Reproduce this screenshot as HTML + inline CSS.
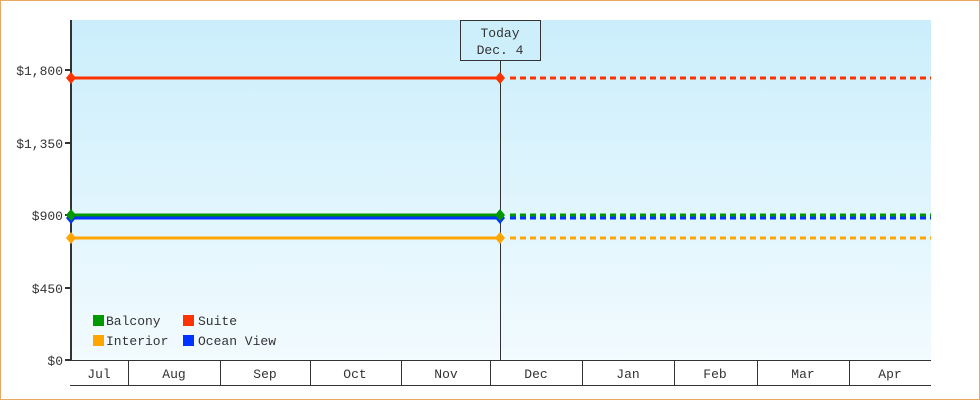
<!DOCTYPE html>
<html><head><style>
body{margin:0;background:#fff}
svg{display:block}
text{font-family:"Liberation Mono","DejaVu Sans Mono",monospace;font-size:13px;fill:#333}
</style></head><body>
<svg width="980" height="400" viewBox="0 0 980 400">
<defs><linearGradient id="g" x1="0" y1="0" x2="0" y2="1"><stop offset="0" stop-color="#cbeefc"/><stop offset="1" stop-color="#f2fbfe"/></linearGradient></defs>
<rect x="0.5" y="0.5" width="979" height="399" fill="#fff" stroke="#eba95f"/>
<rect x="71" y="20" width="860" height="340" fill="url(#g)"/>
<line x1="71" y1="20" x2="71" y2="361" stroke="#333" stroke-width="2"/>
<g stroke="#333" stroke-width="2">
<line x1="65" y1="70" x2="71" y2="70"/><line x1="65" y1="143" x2="71" y2="143"/><line x1="65" y1="215" x2="71" y2="215"/><line x1="65" y1="288" x2="71" y2="288"/><line x1="65" y1="360" x2="71" y2="360"/>
</g>
<g text-anchor="end">
<text x="63" y="75">$1,800</text><text x="63" y="148">$1,350</text><text x="63" y="220">$900</text><text x="63" y="293">$450</text><text x="63" y="365">$0</text>
</g>
<line x1="70" y1="360.5" x2="931" y2="360.5" stroke="#333"/>
<line x1="70" y1="385.5" x2="931" y2="385.5" stroke="#333"/>
<g stroke="#333">
<line x1="128.5" y1="360" x2="128.5" y2="385"/><line x1="220.5" y1="360" x2="220.5" y2="385"/><line x1="310.5" y1="360" x2="310.5" y2="385"/><line x1="401.5" y1="360" x2="401.5" y2="385"/><line x1="490.5" y1="360" x2="490.5" y2="385"/><line x1="582.5" y1="360" x2="582.5" y2="385"/><line x1="674.5" y1="360" x2="674.5" y2="385"/><line x1="757.5" y1="360" x2="757.5" y2="385"/><line x1="849.5" y1="360" x2="849.5" y2="385"/>
</g>
<g text-anchor="middle">
<text x="99" y="378">Jul</text><text x="174" y="378">Aug</text><text x="265" y="378">Sep</text><text x="355" y="378">Oct</text><text x="446" y="378">Nov</text><text x="536" y="378">Dec</text><text x="628" y="378">Jan</text><text x="715" y="378">Feb</text><text x="803" y="378">Mar</text><text x="890" y="378">Apr</text>
</g>
<line x1="500.5" y1="60" x2="500.5" y2="360" stroke="#333"/>
<rect x="460.5" y="20.5" width="80" height="40" fill="#cdeffc" stroke="#333"/>
<text x="500" y="37" text-anchor="middle">Today</text>
<text x="500" y="54" text-anchor="middle">Dec. 4</text>
<g stroke-width="3">
<line x1="71" y1="78" x2="500" y2="78" stroke="#ff3300"/>
<line x1="510" y1="78" x2="931" y2="78" stroke="#ff3300" stroke-dasharray="6 4"/>
<line x1="71" y1="218" x2="500" y2="218" stroke="#0033ff"/>
<line x1="510" y1="218" x2="931" y2="218" stroke="#0033ff" stroke-dasharray="6 4"/>
<line x1="71" y1="215" x2="500" y2="215" stroke="#009900"/>
<line x1="510" y1="215" x2="931" y2="215" stroke="#009900" stroke-dasharray="6 4"/>
<line x1="71" y1="238" x2="500" y2="238" stroke="#ffa500"/>
<line x1="510" y1="238" x2="931" y2="238" stroke="#ffa500" stroke-dasharray="6 4"/>
</g>
<g>
<polygon points="71,72 76,78 71,84 66,78" fill="#ff3300"/><polygon points="500,72 505,78 500,84 495,78" fill="#ff3300"/>
<polygon points="71,212 76,218 71,224 66,218" fill="#0033ff"/><polygon points="500,212 505,218 500,224 495,218" fill="#0033ff"/>
<polygon points="71,209 76,215 71,221 66,215" fill="#009900"/><polygon points="500,209 505,215 500,221 495,215" fill="#009900"/>
<polygon points="71,232 76,238 71,244 66,238" fill="#ffa500"/><polygon points="500,232 505,238 500,244 495,238" fill="#ffa500"/>
</g>
<rect x="93" y="315" width="11" height="11" fill="#009900"/><text x="106" y="325">Balcony</text>
<rect x="183" y="315" width="11" height="11" fill="#ff3300"/><text x="198" y="325">Suite</text>
<rect x="93" y="335" width="11" height="11" fill="#ffa500"/><text x="106" y="345">Interior</text>
<rect x="183" y="335" width="11" height="11" fill="#0033ff"/><text x="198" y="345">Ocean View</text>
</svg>
</body></html>
